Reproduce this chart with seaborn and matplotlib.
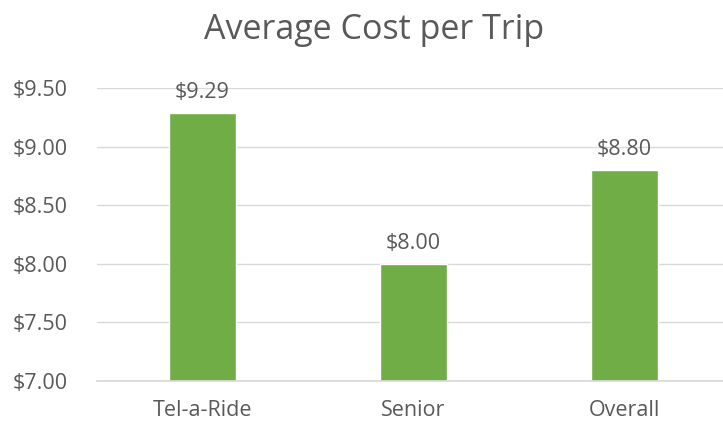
import matplotlib
matplotlib.use("Agg")
import matplotlib.pyplot as plt
import seaborn as sns
import pandas as pd
from matplotlib.ticker import FuncFormatter

# data
categories = ["Tel-a-Ride", "Senior", "Overall"]
avg_cost = [9.29, 8.00, 8.80]
value_labels = ["$9.29", "$8.00", "$8.80"]

bar_color = "#70AD47"
text_color = "#595959"

sns.set_theme(style="white")
plt.rcParams["font.family"] = ["Open Sans", "DejaVu Sans"]

df = pd.DataFrame({"Category": categories, "Cost": avg_cost})

fig = plt.figure(figsize=(7.23, 4.26), dpi=100)
# axes runs a little past the right edge, like the cropped original
ax = fig.add_axes([97 / 723, 1 - 381 / 426, 633 / 723, 293 / 426])

sns.barplot(data=df, x="Category", y="Cost", color=bar_color,
            width=0.32, saturation=1, ax=ax)

ax.set_ylim(7.0, 9.5)
ax.set_yticks([7.0, 7.5, 8.0, 8.5, 9.0, 9.5])
ax.yaxis.set_major_formatter(FuncFormatter(lambda v, p: f"${v:.2f}"))
ax.grid(axis="y", color="#d9d9d9", linewidth=1)
ax.set_axisbelow(True)
for s in ["top", "right", "left"]:
    ax.spines[s].set_visible(False)
ax.spines["bottom"].set_color("#d9d9d9")
ax.tick_params(axis="both", colors=text_color, labelsize=15.5, length=0)
ax.tick_params(axis="y", pad=21)
ax.tick_params(axis="x", pad=14)
ax.set_xlabel("")
ax.set_ylabel("")

for i, (v, lab) in enumerate(zip(avg_cost, value_labels)):
    ax.annotate(lab, (i, v), xytext=(0, 7), textcoords="offset points",
                ha="center", va="bottom", fontsize=15.5, color=text_color)

fig.text(374 / 723, 1 - 30 / 426, "Average Cost per Trip", ha="center",
         va="center", fontsize=24.5, color=text_color)

fig.savefig("out.png", dpi=100)
